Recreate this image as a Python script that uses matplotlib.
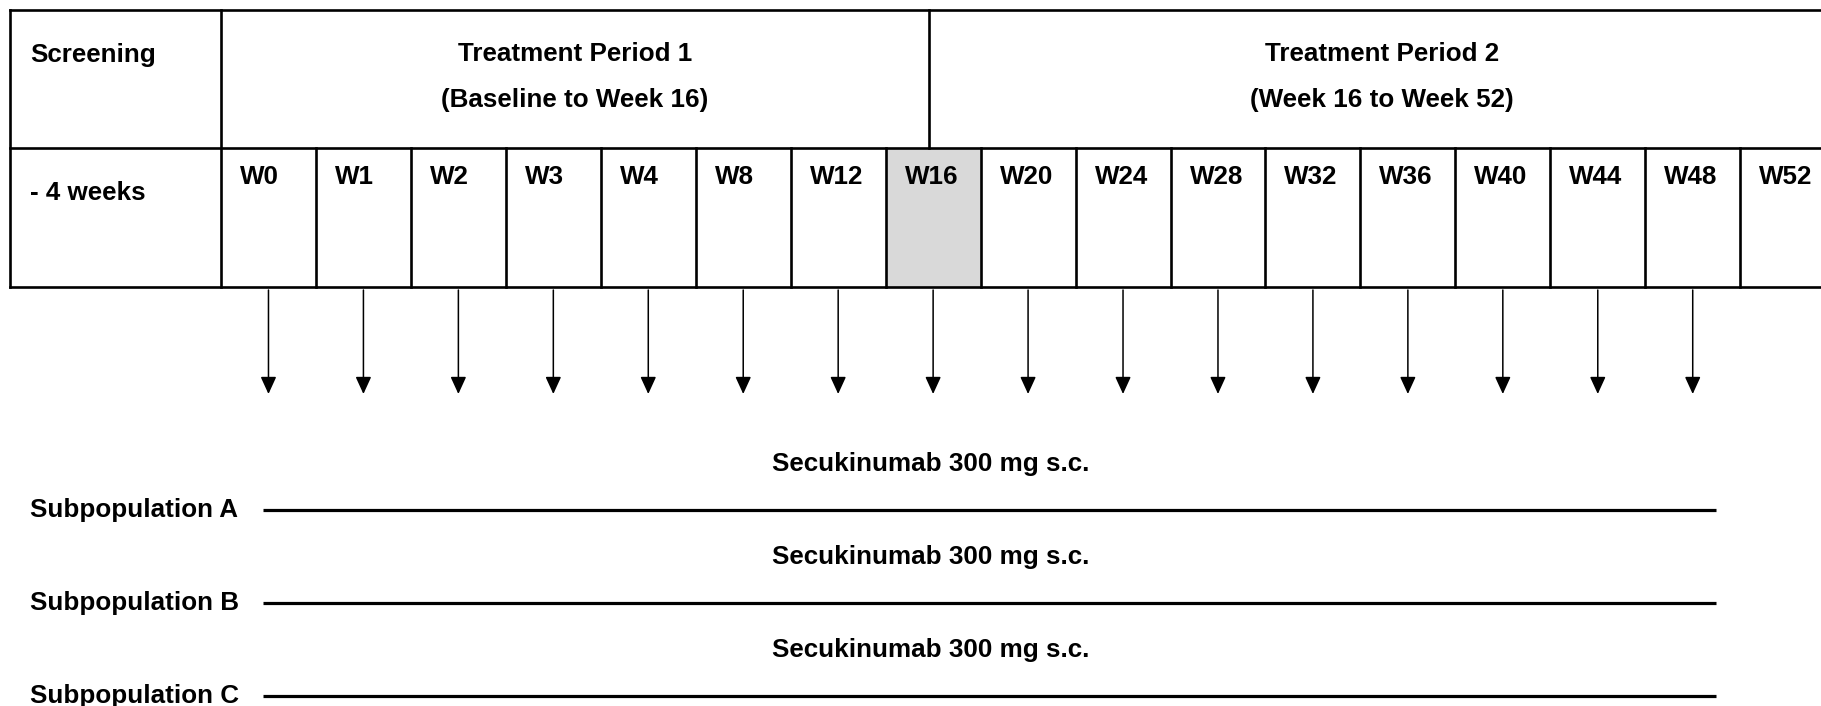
import matplotlib
matplotlib.use("Agg")
import matplotlib.pyplot as plt
from matplotlib.patches import Rectangle

plt.rcParams['font.family'] = ['Liberation Sans', 'DejaVu Sans']

# ---- data ----
visits = ["W0", "W1", "W2", "W3", "W4", "W8", "W12", "W16", "W20", "W24",
          "W28", "W32", "W36", "W40", "W44", "W48", "W52"]
dosing_visits = ["W0", "W1", "W2", "W3", "W4", "W8", "W12", "W16", "W20", "W24",
                 "W28", "W32", "W36", "W40", "W44", "W48"]
highlight_visit = "W16"
screening_label = "Screening"
screening_duration = "- 4 weeks"
period_titles = ["Treatment Period 1", "Treatment Period 2"]
period_ranges = ["(Baseline to Week 16)", "(Week 16 to Week 52)"]
subpopulations = ["Subpopulation A", "Subpopulation B", "Subpopulation C"]
treatment_label = "Secukinumab 300 mg s.c."

# ---- layout (pixel space) ----
W, H = 1821, 706
x0, cw = 221, 94.95          # first visit cell left edge, cell width
left = 10
y_top, y_mid, y_bot = 9.5, 148, 287
FS = 18.7
LW = 1.9

fig = plt.figure(figsize=(W / 100, H / 100), dpi=100)
ax = fig.add_axes([0, 0, 1, 1])
ax.set_xlim(0, W)
ax.set_ylim(H, 0)
ax.axis('off')

n = len(visits)
x_right = x0 + n * cw
cell_left = {v: x0 + i * cw for i, v in enumerate(visits)}
cell_center = {v: x0 + (i + 0.5) * cw for i, v in enumerate(visits)}

# highlighted cell
hx = cell_left[highlight_visit]
ax.add_patch(Rectangle((hx, y_mid), cw, y_bot - y_mid, facecolor='#d9d9d9',
                       edgecolor='none', zorder=1))

# table lines
kw = dict(color='black', lw=LW, solid_capstyle='projecting', zorder=3)
ax.plot([left, x_right], [y_top, y_top], **kw)
ax.plot([left, x_right], [y_mid, y_mid], **kw)
ax.plot([left, x_right], [y_bot, y_bot], **kw)
ax.plot([left, left], [y_top, y_bot], **kw)
ax.plot([x0, x0], [y_top, y_bot], **kw)
for i in range(1, n + 1):
    xx = x0 + i * cw
    ax.plot([xx, xx], [y_mid, y_bot], **kw)
divider = cell_center[highlight_visit] - 4
ax.plot([divider, divider], [y_top, y_mid], **kw)

# texts in table
tkw = dict(fontsize=FS, fontweight='bold', color='black', va='baseline')
ax.text(30, 62, screening_label, ha='left', **tkw)
ax.text(30, 200, screening_duration, ha='left', **tkw)
for v in visits:
    ax.text(cell_left[v] + 19, 184, v, ha='left', **tkw)

spans = [(x0, divider), (divider, x_right)]
for (a, b), t, r in zip(spans, period_titles, period_ranges):
    ax.text((a + b) / 2, 61, t, ha='center', **tkw)
    ax.text((a + b) / 2, 107, r, ha='center', **tkw)

# dosing arrows
for v in dosing_visits:
    xc = cell_center[v]
    ax.annotate('', xy=(xc, 394), xytext=(xc, 290),
                arrowprops=dict(arrowstyle='-|>,head_length=1.05,head_width=0.48',
                                mutation_scale=10, lw=1.1, color='black',
                                shrinkA=0, shrinkB=0))

# subpopulation arms
line_start = cell_center[dosing_visits[0]] - 5
line_end = cell_center[dosing_visits[-1]] + 23
for k, s in enumerate(subpopulations):
    yb = 471 + k * 93
    yl = 510 + k * 93
    ax.text(931, yb, treatment_label, ha='center', **tkw)
    ax.text(30, yb + 46, s, ha='left', **tkw)
    ax.plot([line_start, line_end], [yl, yl], color='black', lw=2.3,
            solid_capstyle='butt')

fig.savefig('out.png', dpi=100)
